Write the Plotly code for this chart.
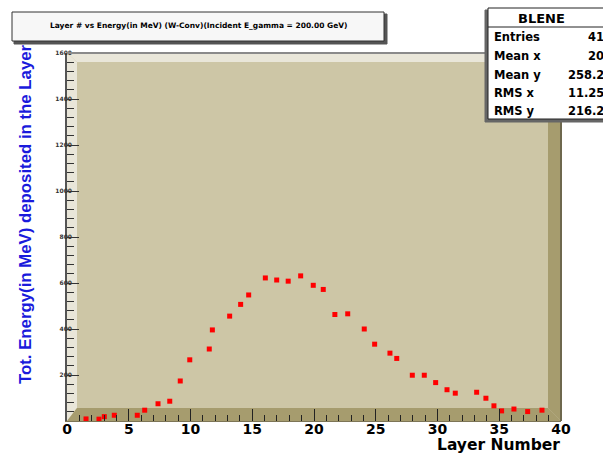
import plotly.graph_objects as go

# ---- data ----
layer = [1.54, 2.59, 3.02, 3.83, 5.69, 6.29, 7.37, 8.32, 9.17, 9.94,
         11.52, 11.77, 13.17, 14.06, 14.71, 16.06, 16.98, 17.91, 18.92, 19.94,
         20.75, 21.69, 22.73, 24.07, 24.91, 26.15, 26.70, 27.96, 28.93, 29.85,
         30.77, 31.44, 33.17, 33.92, 34.57, 35.19, 36.19, 37.30, 38.46]
energy = [9, 8, 19, 25, 25, 47, 75, 86, 174, 266,
          313, 396, 456, 507, 548, 622, 613, 608, 631, 590,
          572, 463, 466, 400, 334, 295, 272, 199, 199, 167,
          136, 121, 125, 99, 66, 44, 52, 41, 47]
x_ticks = [0, 5, 10, 15, 20, 25, 30, 35, 40]
y_ticks = [200, 400, 600, 800, 1000, 1200, 1400, 1600]
stat_names = ["Entries", "Mean x", "Mean y", "RMS x", "RMS y"]
stat_values = ["41", "20", "258.2", "11.25", "216.2"]

title_text = "Layer # vs Energy(in MeV) (W-Conv)(Incident E_gamma = 200.00 GeV)"

W, H = 603, 455
L, R, T, B = 67, 561, 53, 421


def px(x):
    return (x - L) / (R - L)


def py(y):
    return (B - y) / (B - T)


BACK = "#cdc6a6"
LIGHT = "#e9e6d9"
DARK = "#a69c6e"

fig = go.Figure()
fig.add_trace(go.Scatter(
    x=layer, y=energy, mode="markers",
    marker=dict(symbol="square", size=5, color="#ff0000", line=dict(width=0)),
    showlegend=False, hoverinfo="x+y"))

shapes = []


def poly(pts, color):
    path = "M " + " L ".join(f"{px(a)},{py(b)}" for a, b in pts) + " Z"
    return dict(type="path", xref="paper", yref="paper", path=path,
                fillcolor=color, line=dict(width=0), layer="below")


ix0, iy0, ix1, iy1 = 77, 62, 548, 408
shapes.append(poly([(L, T), (R, T), (ix1, iy0), (ix0, iy0)], LIGHT))
shapes.append(poly([(L, T), (ix0, iy0), (ix0, iy1), (L, B)], LIGHT))
shapes.append(poly([(L, B), (ix0, iy1), (ix1, iy1), (R, B)], DARK))
shapes.append(poly([(R, T), (R, B), (ix1, iy1), (ix1, iy0)], DARK))
shapes.append(dict(type="line", xref="paper", yref="paper", x0=0, x1=1, y0=1, y1=1,
                   line=dict(color="#8a8a8a", width=2)))
shapes.append(dict(type="line", xref="paper", yref="paper", x0=1, x1=1, y0=0, y1=1,
                   line=dict(color="#6e684e", width=2)))


def rect(x0, y0, x1, y1, fill, lc, lw=1):
    return dict(type="rect", xref="paper", yref="paper",
                x0=px(x0), x1=px(x1), y0=py(y1), y1=py(y0),
                fillcolor=fill, line=dict(color=lc, width=lw))


shapes.append(rect(14, 14, 387, 44, "#555555", "#555555"))
shapes.append(rect(12, 12, 384, 41, "#f7f7f7", "#333333"))
shapes.append(rect(485, 10, 640, 122, "#666666", "#666666"))
shapes.append(rect(488, 8, 640, 119, "#ffffff", "#222222"))
shapes.append(dict(type="line", xref="paper", yref="paper",
                   x0=px(488), x1=px(640), y0=py(27), y1=py(27),
                   line=dict(color="#222222", width=1)))

annotations = []
annotations.append(dict(text=title_text, xref="paper", yref="paper",
                        x=px(198), y=py(26), xanchor="center", yanchor="middle", showarrow=False,
                        font=dict(family="DejaVu Sans", size=7.5, color="#000000", weight="bold")))
annotations.append(dict(text="BLENE", xref="paper", yref="paper",
                        x=px(541), y=py(18), xanchor="center", yanchor="middle", showarrow=False,
                        font=dict(family="DejaVu Sans", size=13, color="#000000", weight="bold")))
row_y = [37, 56, 75, 93, 111]
for name, val, ry in zip(stat_names, stat_values, row_y):
    annotations.append(dict(text=name, xref="paper", yref="paper",
                            x=px(492), y=py(ry), xanchor="left", yanchor="middle", showarrow=False,
                            font=dict(family="DejaVu Sans", size=11.5, color="#000000", weight="bold")))
    annotations.append(dict(text=val, xref="paper", yref="paper",
                            x=px(606), y=py(ry), xanchor="right", yanchor="middle", showarrow=False,
                            font=dict(family="DejaVu Sans", size=11.5, color="#000000", weight="bold")))

annotations.append(dict(text="Tot. Energy(in MeV) deposited in the Layer",
                        xref="paper", yref="paper", x=px(25), y=py(214),
                        xanchor="center", yanchor="middle",
                        textangle=-90, showarrow=False,
                        font=dict(family="Liberation Sans, Arial, sans-serif",
                                  size=16.8, color="#1a1adc", weight="bold")))
annotations.append(dict(text="Layer Number", xref="paper", yref="paper",
                        x=px(561), y=py(455), xanchor="right", yanchor="bottom", showarrow=False,
                        borderpad=0,
                        font=dict(family="DejaVu Sans", size=15.5, color="#000000", weight="bold")))

fig.update_layout(
    width=W, height=H,
    margin=dict(l=L, r=W - R, t=T, b=H - B, pad=0),
    paper_bgcolor="#ffffff", plot_bgcolor=BACK,
    shapes=shapes, annotations=annotations,
    xaxis=dict(range=[0, 40], tickvals=x_ticks, ticks="inside", ticklen=12,
               tickcolor="#222222", tickwidth=1, showgrid=False, zeroline=False,
               showline=True, linecolor="#7d7556", linewidth=1,
               minor=dict(dtick=1, ticks="inside", ticklen=6, tickcolor="#222222", tickwidth=1),
               tickfont=dict(family="DejaVu Sans", size=14, color="#000000", weight="bold"),
               ticklabelstandoff=-5),
    yaxis=dict(range=[0, 1600], tickvals=y_ticks, ticks="inside", ticklen=12,
               tickcolor="#333333", tickwidth=1, showgrid=False, zeroline=False,
               showline=True, linecolor="#555555", linewidth=1.5,
               minor=dict(dtick=40, ticks="inside", ticklen=7, tickcolor="#333333", tickwidth=1),
               tickfont=dict(family="DejaVu Sans", size=6, color="#333333", weight="bold"),
               ticklabelstandoff=-8),
)

fig.write_html("out.html", config={"displayModeBar": False},
               post_script="document.body.style.margin='0';document.body.style.overflow='hidden';")
